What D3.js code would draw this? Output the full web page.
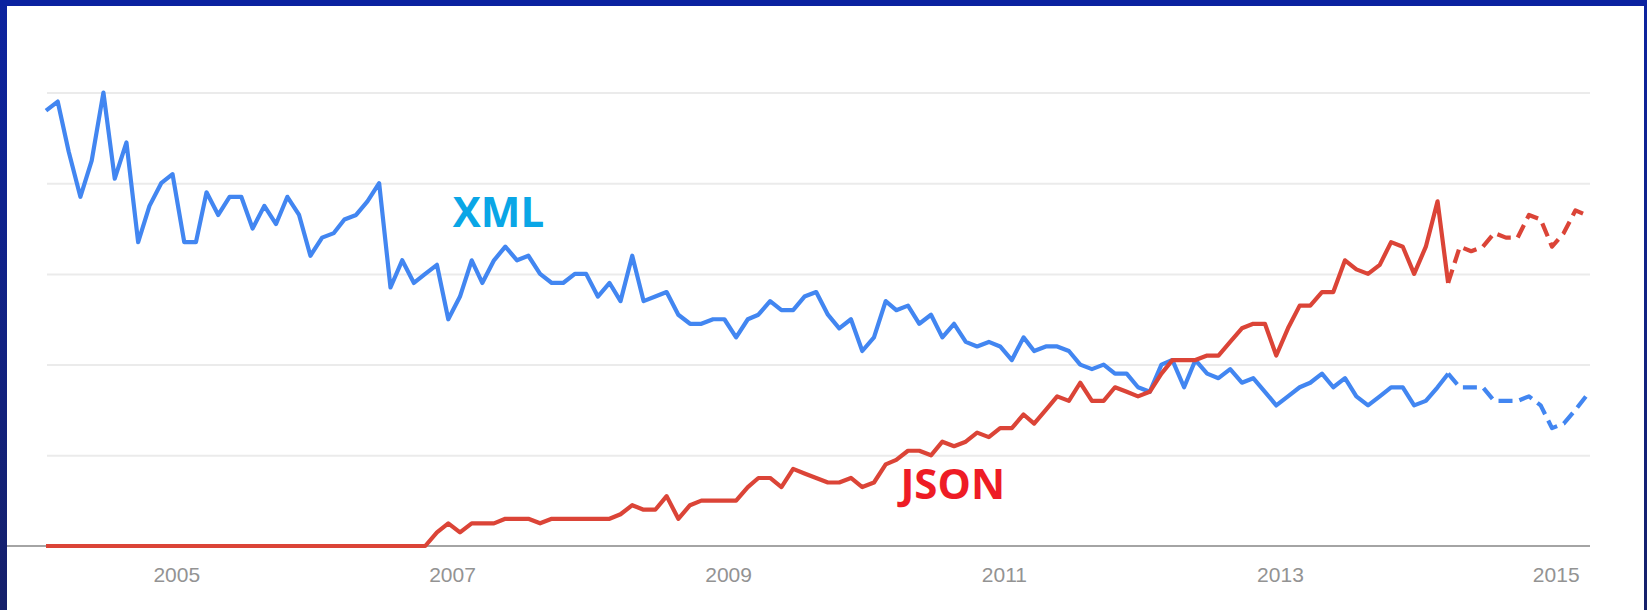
<!DOCTYPE html>
<html>
<head>
<meta charset="utf-8">
<script src="https://cdn.jsdelivr.net/npm/d3@7"></script>
<style>
  html, body { margin: 0; padding: 0; background: #ffffff; }
  svg { display: block; }
</style>
</head>
<body>
<div id="chart"></div>
<script>
// monthly search interest, Jan 2004 .. Mar 2015 (12 values per row = one year)
const xmlValues = [
  96, 98, 87, 77, 85, 100, 81, 89, 67, 75, 80, 82,
  67, 67, 78, 73, 77, 77, 70, 75, 71, 77, 73, 64,
  68, 69, 72, 73, 76, 80, 57, 63, 58, 60, 62, 50,
  55, 63, 58, 63, 66, 63, 64, 60, 58, 58, 60, 60,
  55, 58, 54, 64, 54, 55, 56, 51, 49, 49, 50, 50,
  46, 50, 51, 54, 52, 52, 55, 56, 51, 48, 50, 43,
  46, 54, 52, 53, 49, 51, 46, 49, 45, 44, 45, 44,
  41, 46, 43, 44, 44, 43, 40, 39, 40, 38, 38, 35,
  34, 40, 41, 35, 41, 38, 37, 39, 36, 37, 34, 31,
  33, 35, 36, 38, 35, 37, 33, 31, 33, 35, 35, 31,
  32, 35, 38, 35, 35, 35, 32, 32, 32, 33, 31, 26,
  27, 30, 33
];
const jsonValues = [
  0, 0, 0, 0, 0, 0, 0, 0, 0, 0, 0, 0,
  0, 0, 0, 0, 0, 0, 0, 0, 0, 0, 0, 0,
  0, 0, 0, 0, 0, 0, 0, 0, 0, 0, 3, 5,
  3, 5, 5, 5, 6, 6, 6, 5, 6, 6, 6, 6,
  6, 6, 7, 9, 8, 8, 11, 6, 9, 10, 10, 10,
  10, 13, 15, 15, 13, 17, 16, 15, 14, 14, 15, 13,
  14, 18, 19, 21, 21, 20, 23, 22, 23, 25, 24, 26,
  26, 29, 27, 30, 33, 32, 36, 32, 32, 35, 34, 33,
  34, 38, 41, 41, 41, 42, 42, 45, 48, 49, 49, 42,
  48, 53, 53, 56, 56, 63, 61, 60, 62, 67, 66, 60,
  66, 76, 58, 66, 65, 66, 69, 68, 68, 73, 72, 66,
  69, 74, 73
];
const firstMonth = "2004-01";
const forecastFrom = "2014-03";   // dashed part (projection) starts here
const tickYears = ["2005", "2007", "2009", "2011", "2013", "2015"];
const gridValues = [20, 40, 60, 80, 100];

const W = 1647, H = 610;
const parseMonth = d3.timeParse("%Y-%m");
const start = parseMonth(firstMonth);
const months = d3.timeMonth.range(start, d3.timeMonth.offset(start, xmlValues.length));
const cut = months.findIndex(d => +d === +parseMonth(forecastFrom));

const svg = d3.select("#chart").append("svg")
    .attr("width", W)
    .attr("height", H);

// frame
const grad = svg.append("defs").append("linearGradient")
    .attr("id", "frame").attr("x1", 0).attr("y1", 0).attr("x2", 0).attr("y2", 1);
grad.append("stop").attr("offset", "0%").attr("stop-color", "#0c239f");
grad.append("stop").attr("offset", "100%").attr("stop-color", "#15206a");
svg.append("rect").attr("x", 0).attr("y", 0).attr("width", 7).attr("height", H).attr("fill", "url(#frame)");
svg.append("rect").attr("x", W - 3).attr("y", 0).attr("width", 3).attr("height", H).attr("fill", "url(#frame)");
svg.append("rect").attr("x", 0).attr("y", 0).attr("width", W).attr("height", 6).attr("fill", "#0b22a0");

const x = d3.scaleTime()
    .domain([months[0], months[months.length - 1]])
    .range([46, 1586]);
const y = d3.scaleLinear()
    .domain([0, 100])
    .range([546, 92.5]);

// gridlines
svg.append("g")
    .attr("transform", "translate(47,0)")
    .call(d3.axisRight(y).tickValues(gridValues).tickSize(1543).tickFormat(""))
    .call(g => g.select(".domain").remove())
    .selectAll("line")
    .attr("stroke", "#ebebeb")
    .attr("stroke-width", 2);

// x axis
const xaxis = svg.append("g")
    .attr("transform", `translate(0,${y(0)})`)
    .call(d3.axisBottom(x)
        .tickValues(tickYears.map(t => parseMonth(t + "-01")))
        .tickSize(0)
        .tickPadding(21)
        .tickFormat(d3.timeFormat("%Y")));
xaxis.select(".domain").remove();
xaxis.selectAll("text")
    .attr("dx", "-8")
    .style("font-family", "Arial, 'Liberation Sans', sans-serif")
    .style("font-size", "21px")
    .attr("fill", "#939393");

svg.append("line")
    .attr("x1", 7).attr("x2", 1590)
    .attr("y1", y(0)).attr("y2", y(0))
    .attr("stroke", "#a4a4a4")
    .attr("stroke-width", 2);

const line = d3.line()
    .x(d => x(d.date))
    .y(d => y(d.value));

function drawSeries(values, colour) {
    const pts = months.map((d, i) => ({date: d, value: values[i]}));
    svg.append("path")
        .datum(pts.slice(0, cut + 1))
        .attr("fill", "none")
        .attr("stroke", colour)
        .attr("stroke-width", 4.2)
        .attr("stroke-linejoin", "round")
        .attr("d", line);
    svg.append("path")
        .datum(pts.slice(cut))
        .attr("fill", "none")
        .attr("stroke", colour)
        .attr("stroke-width", 4.2)
        .attr("stroke-dasharray", "14,7")
        .attr("stroke-linejoin", "round")
        .attr("d", line);
}

drawSeries(xmlValues, "#4286f1");
drawSeries(jsonValues, "#db4437");

// series annotations
svg.append("text")
    .attr("x", x(new Date(2006, 11, 13)))
    .attr("y", y(70.3))
    .text("XML")
    .style("font-family", "'Open Sans', sans-serif")
    .style("font-weight", "bold")
    .style("font-size", "42px")
    .attr("fill", "#0aa6e6");

svg.append("text")
    .attr("x", x(new Date(2010, 2, 12)))
    .attr("y", y(10.4))
    .text("JSON")
    .style("font-family", "'Open Sans', sans-serif")
    .style("font-weight", "bold")
    .style("font-size", "42px")
    .attr("fill", "#ee1c25");
</script>
</body>
</html>
